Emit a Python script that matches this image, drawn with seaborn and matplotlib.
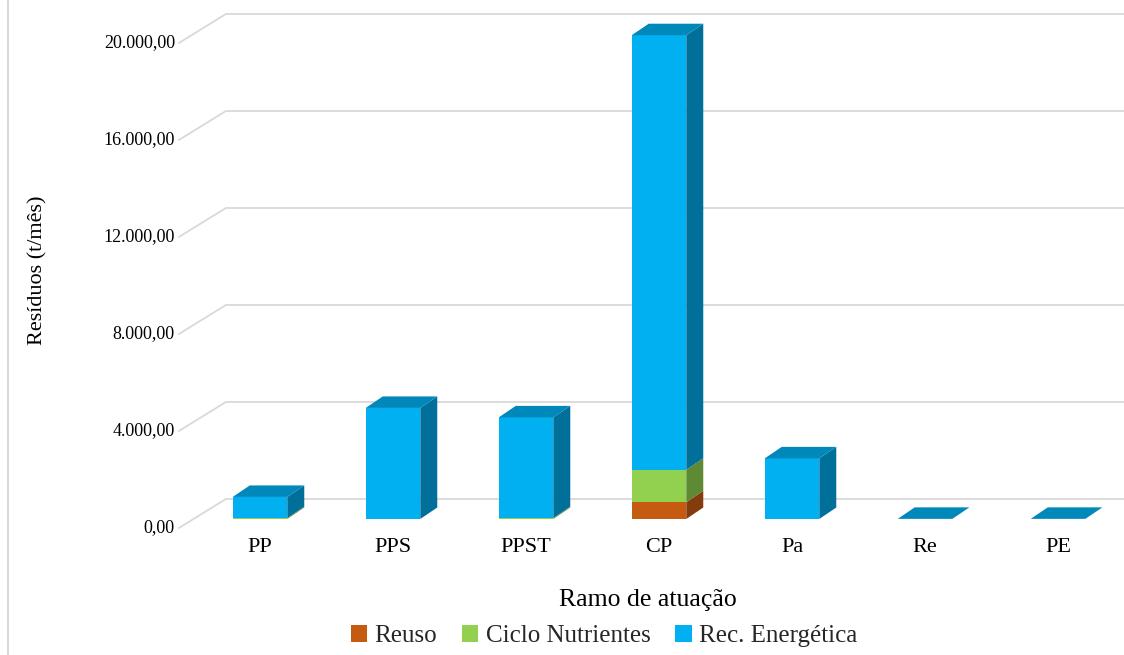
import numpy as np
import matplotlib
matplotlib.use("Agg")
import matplotlib.pyplot as plt
from matplotlib.patches import Polygon, Patch
from matplotlib.lines import Line2D
from matplotlib.transforms import IdentityTransform
import seaborn as sns

# Waste per business branch (t/month), split by destination
categories = ["PP", "PPS", "PPST", "CP", "Pa", "Re", "PE"]
reuso = [0, 0, 0, 690, 0, 0, 0]
ciclo_nutrientes = [40, 0, 40, 1340, 0, 0, 0]
rec_energetica = [870, 4580, 4150, 17920, 2500, 6, 6]
series_names = ["Reuso", "Ciclo Nutrientes", "Rec. Energética"]

y_ticks = [0, 4000, 8000, 12000, 16000, 20000]
y_tick_labels = ["0,00", "4.000,00", "8.000,00", "12.000,00", "16.000,00", "20.000,00"]

sns.set_theme(style="white")
plt.rcParams["font.family"] = ["Liberation Serif", "DejaVu Serif"]

front_colors = ["#C55A11", "#92D050", "#00B0F0"]
side_colors = ["#843C0C", "#5E8A33", "#006F9A"]
top_colors = ["#A34A0E", "#79AD42", "#0088BB"]
grid_color = "#D9D9D9"

W, H, DPI = 1124, 655, 100
fig = plt.figure(figsize=(W / DPI, H / DPI), dpi=DPI)
fig.patch.set_facecolor("white")
ax = fig.add_axes([193.5 / W, (H - 519) / H, 931 / W, 485 / H])
ax.set_facecolor("none")

# stacked bars: draw cumulative totals from the top series down
stack = np.array([reuso, ciclo_nutrientes, rec_energetica], dtype=float)
cum = np.cumsum(stack, axis=0)
bar_width = 0.41
for k in (2, 1, 0):
    sns.barplot(x=categories, y=cum[k], color=front_colors[k], saturation=1,
                width=bar_width, ax=ax, zorder=3, linewidth=0)

ax.set_xlim(-0.5, len(categories) - 0.5)
ax.set_ylim(0, 20000)
for s in ax.spines.values():
    s.set_visible(False)
ax.set_yticks(y_ticks)
ax.tick_params(axis="y", left=False, labelleft=False)
ax.tick_params(axis="x", length=0, pad=14, labelsize=16, colors="#000000")
ax.set_xlabel("")
ax.set_ylabel("")

# pseudo-3D geometry, in pixels
bar_dx, bar_dy = 17, 11.5          # depth of each bar
back_dx, back_dy = 32.4, 20        # bar plane -> back wall
front_dx, front_dy = -14.6, -9     # bar plane -> front edge of floor

# back-wall gridlines with the slanted side-wall segment and y labels
for v, lab in zip(y_ticks, y_tick_labels):
    xl, yv = ax.transData.transform((-0.5, v))
    fx, fy = xl + front_dx, yv + front_dy
    bx, by = xl + back_dx, yv + back_dy
    ax.add_line(Line2D([fx, bx, W + 10], [fy, by, by], transform=IdentityTransform(),
                       color=grid_color, lw=1.3, zorder=1, clip_on=False))
    fig.text(fx - 4, fy, lab, transform=IdentityTransform(), ha="right",
             va="center", fontsize=13, color="#000000")

# side and top faces of every bar segment
bars = ax.containers[0]
for i, rect in enumerate(bars):
    x0d = rect.get_x()
    x1d = x0d + rect.get_width()
    top_k = max([k for k in range(3) if stack[k, i] > 0] or [2])
    for k in range(3):
        if stack[k, i] <= 0:
            continue
        (x0, yb) = ax.transData.transform((x0d, cum[k, i] - stack[k, i]))
        (x1, yt) = ax.transData.transform((x1d, cum[k, i]))
        side = Polygon([(x1, yb), (x1 + bar_dx, yb + bar_dy),
                        (x1 + bar_dx, yt + bar_dy), (x1, yt)],
                       closed=True, transform=IdentityTransform(),
                       facecolor=side_colors[k], edgecolor="none",
                       zorder=3, clip_on=False)
        ax.add_patch(side)
        if k == top_k:
            top = Polygon([(x0, yt), (x1, yt), (x1 + bar_dx, yt + bar_dy),
                           (x0 + bar_dx, yt + bar_dy)],
                          closed=True, transform=IdentityTransform(),
                          facecolor=top_colors[k], edgecolor="none",
                          zorder=4, clip_on=False)
            ax.add_patch(top)

# axis titles
fig.text(648 / W, 1 - 600 / H, "Ramo de atuação", ha="center", va="center",
         fontsize=18.5, color="#000000")
fig.text(38 / W, 1 - 270 / H, "Resíduos (t/mês)", ha="center", va="center",
         rotation=90, fontsize=16, color="#000000")

# legend
handles = [Patch(facecolor=c, edgecolor="none") for c in front_colors]
fig.legend(handles, series_names, loc="center", bbox_to_anchor=(604 / W, 1 - 636 / H),
           ncol=3, frameon=False, handlelength=0.65, handleheight=0.65,
           handletextpad=0.3, columnspacing=1.0, fontsize=18, borderaxespad=0)

# chart-area border on the left
fig.add_artist(Line2D([8, 8], [0, H], transform=IdentityTransform(),
                      color=grid_color, lw=1.5))

fig.savefig("out.png", dpi=DPI)
